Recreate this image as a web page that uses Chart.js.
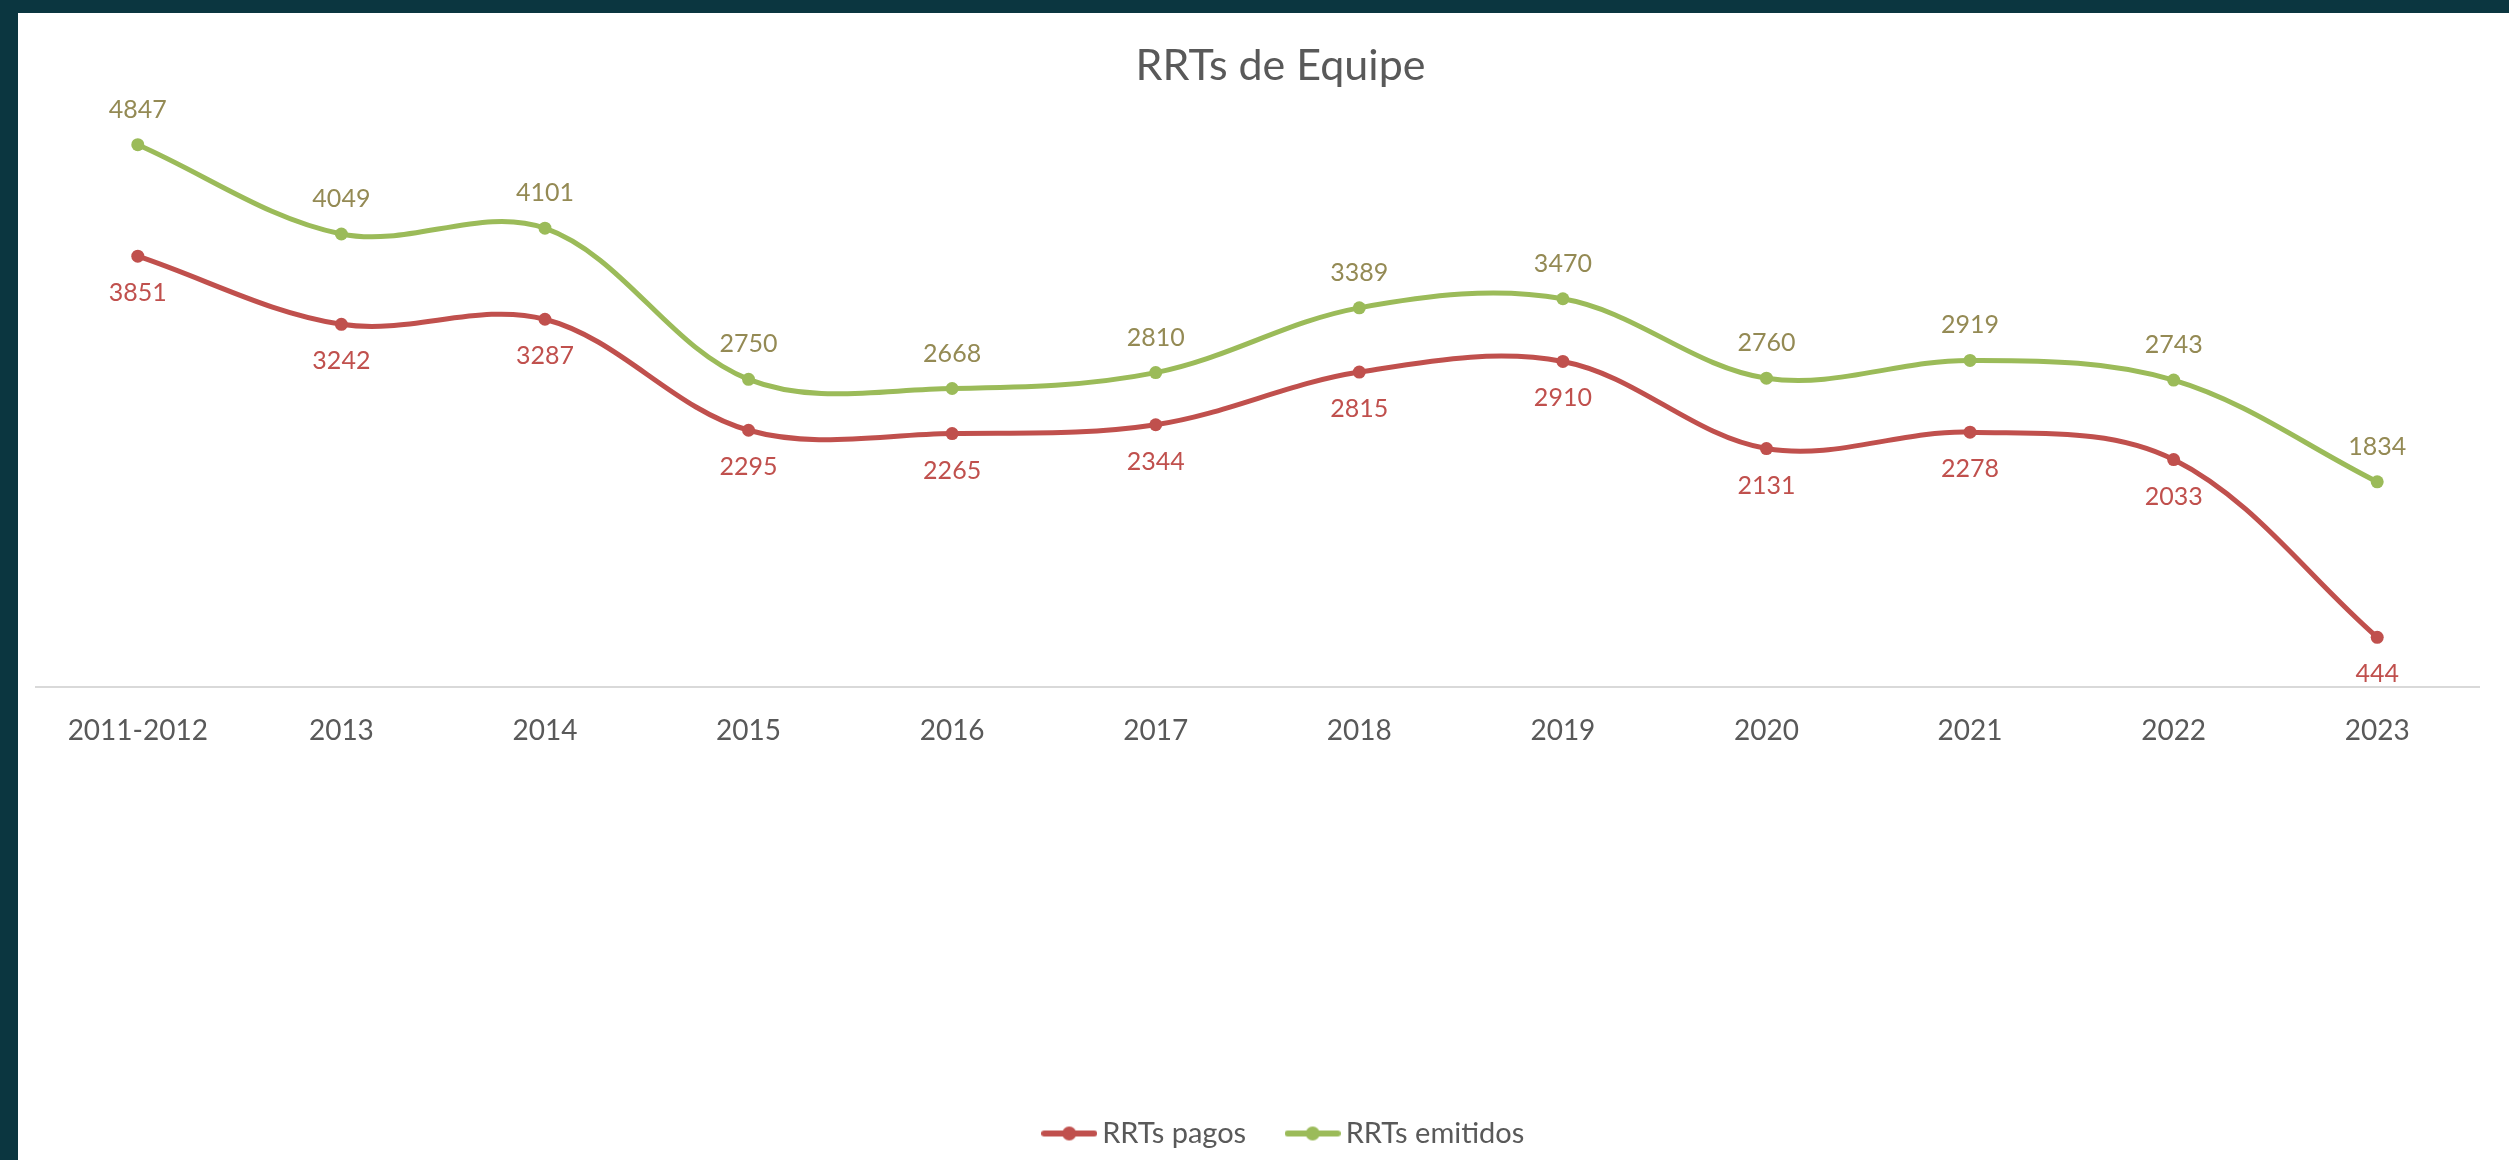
<!DOCTYPE html>
<html>
<head>
<meta charset="utf-8">
<title>RRTs de Equipe</title>
<script src="https://cdn.jsdelivr.net/npm/chart.js@4/dist/chart.umd.min.js"></script>
<style>
  html, body { margin: 0; padding: 0; background: #0b3640; overflow: hidden; }
  #wrap { position: absolute; left: 18px; top: 13px; width: 2491px; height: 1147px; background: #fff; }
</style>
</head>
<body>
<div id="wrap"><canvas id="rrtChart"></canvas></div>
<script>
const years = ['2011-2012', '2013', '2014', '2015', '2016', '2017', '2018', '2019', '2020', '2021', '2022', '2023'];
const rrtsPagos = [3851, 3242, 3287, 2295, 2265, 2344, 2815, 2910, 2131, 2278, 2033, 444];
const rrtsEmitidos = [4847, 4049, 4101, 2750, 2668, 2810, 3389, 3470, 2760, 2919, 2743, 1834];

const RED = '#c0504d';
const GREEN = '#9bbb59';
const GREY_TEXT = '#595959';

// legend marker: short line with a dot in the middle, like Excel
function legendMarker(color) {
    const c = document.createElement('canvas');
    c.width = 56;
    c.height = 16;
    const g = c.getContext('2d');
    g.strokeStyle = color;
    g.lineWidth = 6;
    g.lineCap = 'round';
    g.beginPath();
    g.moveTo(3, 8);
    g.lineTo(53, 8);
    g.stroke();
    g.fillStyle = color;
    g.beginPath();
    g.arc(28, 8, 7, 0, Math.PI * 2);
    g.fill();
    return c;
}

// value labels: emitidos above the point, pagos below
const valueLabels = {
    id: 'valueLabels',
    afterDatasetsDraw(chart) {
        const ctx = chart.ctx;
        ctx.save();
        ctx.font = '25px Lato';
        ctx.textAlign = 'center';
        ctx.textBaseline = 'middle';
        chart.data.datasets.forEach((ds, i) => {
            const meta = chart.getDatasetMeta(i);
            meta.data.forEach((pt, j) => {
                ctx.fillStyle = ds.labelColor;
                ctx.fillText(ds.data[j], pt.x, pt.y + ds.labelOffset);
            });
        });
        ctx.restore();
    }
};

// title and legend sit a little right of centre in the original
const blockShift = {
    id: 'blockShift',
    afterLayout(chart) {
        chart.titleBlock.left += 23;
        chart.titleBlock.right += 23;
        chart.legend.left += 30;
        chart.legend.right += 30;
    }
};

const ctx = document.getElementById('rrtChart');
new Chart(ctx, {
    type: 'line',
    data: {
        labels: years,
        datasets: [{
            label: 'RRTs pagos',
            data: rrtsPagos,
            borderColor: RED,
            backgroundColor: RED,
            borderWidth: 5,
            pointRadius: 6.5,
            pointBackgroundColor: RED,
            pointBorderWidth: 0,
            tension: 0.35,
            labelColor: RED,
            labelOffset: 37
        }, {
            label: 'RRTs emitidos',
            data: rrtsEmitidos,
            borderColor: GREEN,
            backgroundColor: GREEN,
            borderWidth: 5,
            pointRadius: 6.5,
            pointBackgroundColor: GREEN,
            pointBorderWidth: 0,
            tension: 0.35,
            labelColor: '#948a54',
            labelOffset: -35
        }]
    },
    options: {
        responsive: true,
        maintainAspectRatio: false,
        animation: false,
        layout: {
            padding: { left: 18, right: 30, top: 0, bottom: 2 }
        },
        plugins: {
            title: {
                display: true,
                text: 'RRTs de Equipe',
                color: GREY_TEXT,
                font: { family: 'Lato', size: 43, weight: 'normal' },
                padding: { top: 27, bottom: 36 }
            },
            legend: {
                position: 'bottom',
                labels: {
                    usePointStyle: true,
                    pointStyleWidth: 37,
                    padding: 48,
                    color: GREY_TEXT,
                    font: { family: 'Lato', size: 29 },
                    generateLabels(chart) {
                        return chart.data.datasets.map((ds, i) => ({
                            text: ds.label,
                            pointStyle: legendMarker(ds.borderColor),
                            fillStyle: ds.borderColor,
                            strokeStyle: ds.borderColor,
                            lineWidth: 0,
                            fontColor: GREY_TEXT,
                            datasetIndex: i
                        }));
                    }
                }
            },
            tooltip: { enabled: false }
        },
        scales: {
            x: {
                offset: true,
                grid: { display: false, drawTicks: false },
                border: { display: true, color: '#d9d9d9', width: 2 },
                ticks: {
                    color: GREY_TEXT,
                    padding: 27,
                    font: { family: 'Lato', size: 28 }
                },
                afterFit(scale) {
                    scale.height = 384;
                }
            },
            y: {
                display: false,
                min: 0,
                max: 5000
            }
        }
    },
    plugins: [valueLabels, blockShift]
});
</script>
</body>
</html>
